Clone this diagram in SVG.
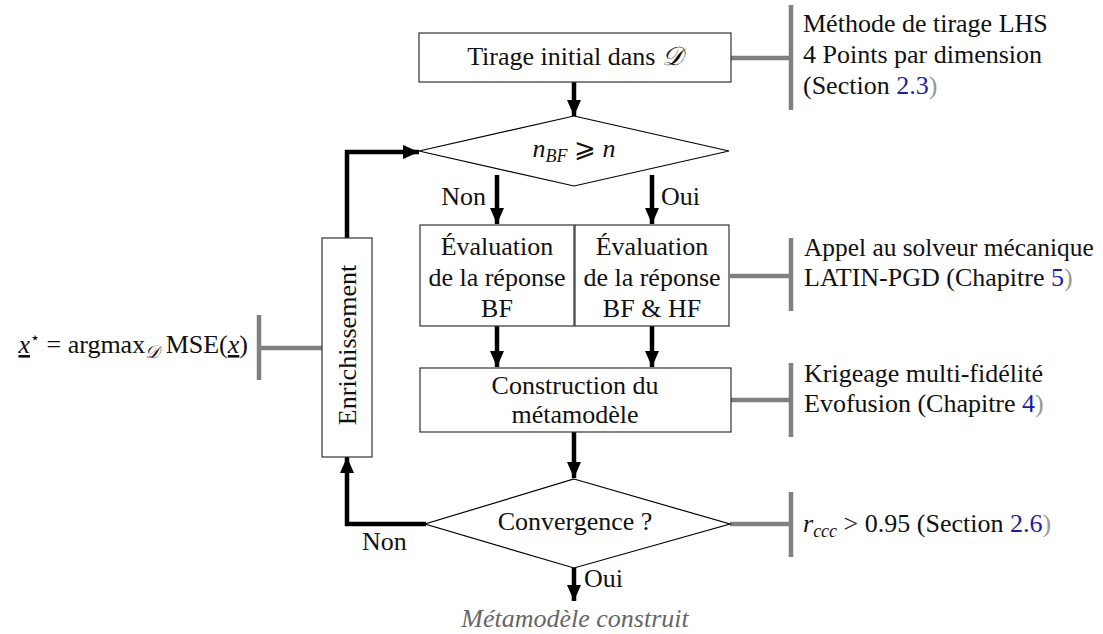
<svg xmlns="http://www.w3.org/2000/svg" width="1103" height="634" viewBox="0 0 1103 634">
<defs>
<style>
text{font-family:'Liberation Serif','DejaVu Serif',serif;font-size:26px;fill:#111}
.c{text-anchor:middle}
.box{fill:#fff;stroke:#333;stroke-width:1.2}
.dia{fill:#fff;stroke:#000;stroke-width:1.2}
.flow{fill:none;stroke:#000;stroke-width:4.5}
.ann{fill:none;stroke:#808080;stroke-width:4.5}
.lnk{fill:#1c1caa}
.par{fill:#999}
.it{font-style:italic}
.sub{font-size:18px;font-style:italic}
.cal{font-family:'DejaVu Serif',serif;font-style:italic}
</style>
<marker id="ah" viewBox="0 0 16 14" refX="16" refY="7" markerWidth="16" markerHeight="14" markerUnits="userSpaceOnUse" orient="auto">
<path d="M0,0 L16,7 L0,14 Z" fill="#000"/>
</marker>
</defs>

<g id="connectors">
<path class="flow" d="M574,82 V116" marker-end="url(#ah)"/>
<path class="flow" d="M497,175 V224" marker-end="url(#ah)"/>
<path class="flow" d="M652,175 V224" marker-end="url(#ah)"/>
<path class="flow" d="M497,326 V367" marker-end="url(#ah)"/>
<path class="flow" d="M652,326 V367" marker-end="url(#ah)"/>
<path class="flow" d="M574,432 V478" marker-end="url(#ah)"/>
<path class="flow" d="M574,566 V601" marker-end="url(#ah)"/>
<path class="flow" d="M426,524 H347 V457" marker-end="url(#ah)"/>
<path class="flow" d="M347,238 V152 H419" marker-end="url(#ah)"/>
<text x="486" y="205" style="text-anchor:end">Non</text>
<text x="661" y="205">Oui</text>
<text x="362" y="550">Non</text>
<text x="584" y="587">Oui</text>
<path class="ann" d="M731,58 H791 M791,5 V110"/>
<path class="ann" d="M730,276 H791 M791,238 V311"/>
<path class="ann" d="M731,400 H791 M791,363 V437"/>
<path class="ann" d="M730,524 H791 M791,492 V557"/>
<path class="ann" d="M322,348 H259 M259,315 V380"/>
</g>

<g id="tirage">
<rect class="box" x="419" y="33" width="312" height="49"/>
<text class="c" x="575" y="65">Tirage initial dans <tspan class="cal">𝒟</tspan></text>
</g>

<g id="test">
<polygon class="dia" points="574,116 729,151 574,186 419,151"/>
<text class="c" x="574" y="157"><tspan class="it">n</tspan><tspan class="sub" dy="5">BF</tspan><tspan dy="-5"> ⩾ </tspan><tspan class="it">n</tspan></text>
</g>

<g id="evalBF">
<rect class="box" x="420" y="225" width="154" height="101"/>
<text class="c" x="497" y="255">Évaluation</text>
<text class="c" x="497" y="286">de la réponse</text>
<text class="c" x="497" y="317">BF</text>
</g>

<g id="evalHF">
<rect class="box" x="575" y="225" width="154" height="101"/>
<text class="c" x="652" y="255">Évaluation</text>
<text class="c" x="652" y="286">de la réponse</text>
<text class="c" x="652" y="317">BF &amp; HF</text>
</g>

<g id="construction">
<rect class="box" x="420" y="368" width="311" height="64"/>
<text class="c" x="575" y="394">Construction du</text>
<text class="c" x="575" y="423">métamodèle</text>
</g>

<g id="convergence">
<polygon class="dia" points="574,479 730,524 574,568 425,524"/>
<text class="c" x="575" y="530">Convergence ?</text>
</g>

<g id="enrichissement">
<rect class="box" x="322" y="238" width="50" height="219"/>
<text class="c" transform="translate(356,345) rotate(-90)" x="0" y="0">Enrichissement</text>
</g>

<g id="fin">
<text class="c it" x="575" y="627" style="fill:#666">Métamodèle construit</text>
</g>

<g id="annotations">
<text x="803" y="32">Méthode de tirage LHS</text>
<text x="803" y="63">4 Points par dimension</text>
<text x="803" y="94">(Section <tspan class="lnk">2.3</tspan><tspan class="par">)</tspan></text>
<text x="804" y="256" style="font-size:25.4px">Appel au solveur mécanique</text>
<text x="804" y="286">LATIN-PGD (Chapitre <tspan class="lnk">5</tspan><tspan class="par">)</tspan></text>
<text x="804" y="382">Krigeage multi-fidélité</text>
<text x="804" y="412">Evofusion (Chapitre <tspan class="lnk">4</tspan><tspan class="par">)</tspan></text>
<text x="803" y="532"><tspan class="it">r</tspan><tspan class="sub" dy="5">ccc</tspan><tspan dy="-5"> &gt; 0.95 (Section </tspan><tspan class="lnk">2.6</tspan><tspan class="par">)</tspan></text>
<text x="248" y="353" style="text-anchor:end"><tspan class="it" style="text-decoration:underline">x</tspan><tspan font-size="16" dy="-10">⋆</tspan><tspan dy="10"> = argmax</tspan><tspan class="sub cal" dy="5">𝒟</tspan><tspan dy="-5"> MSE(</tspan><tspan class="it" style="text-decoration:underline">x</tspan>)</text>
</g>
</svg>
